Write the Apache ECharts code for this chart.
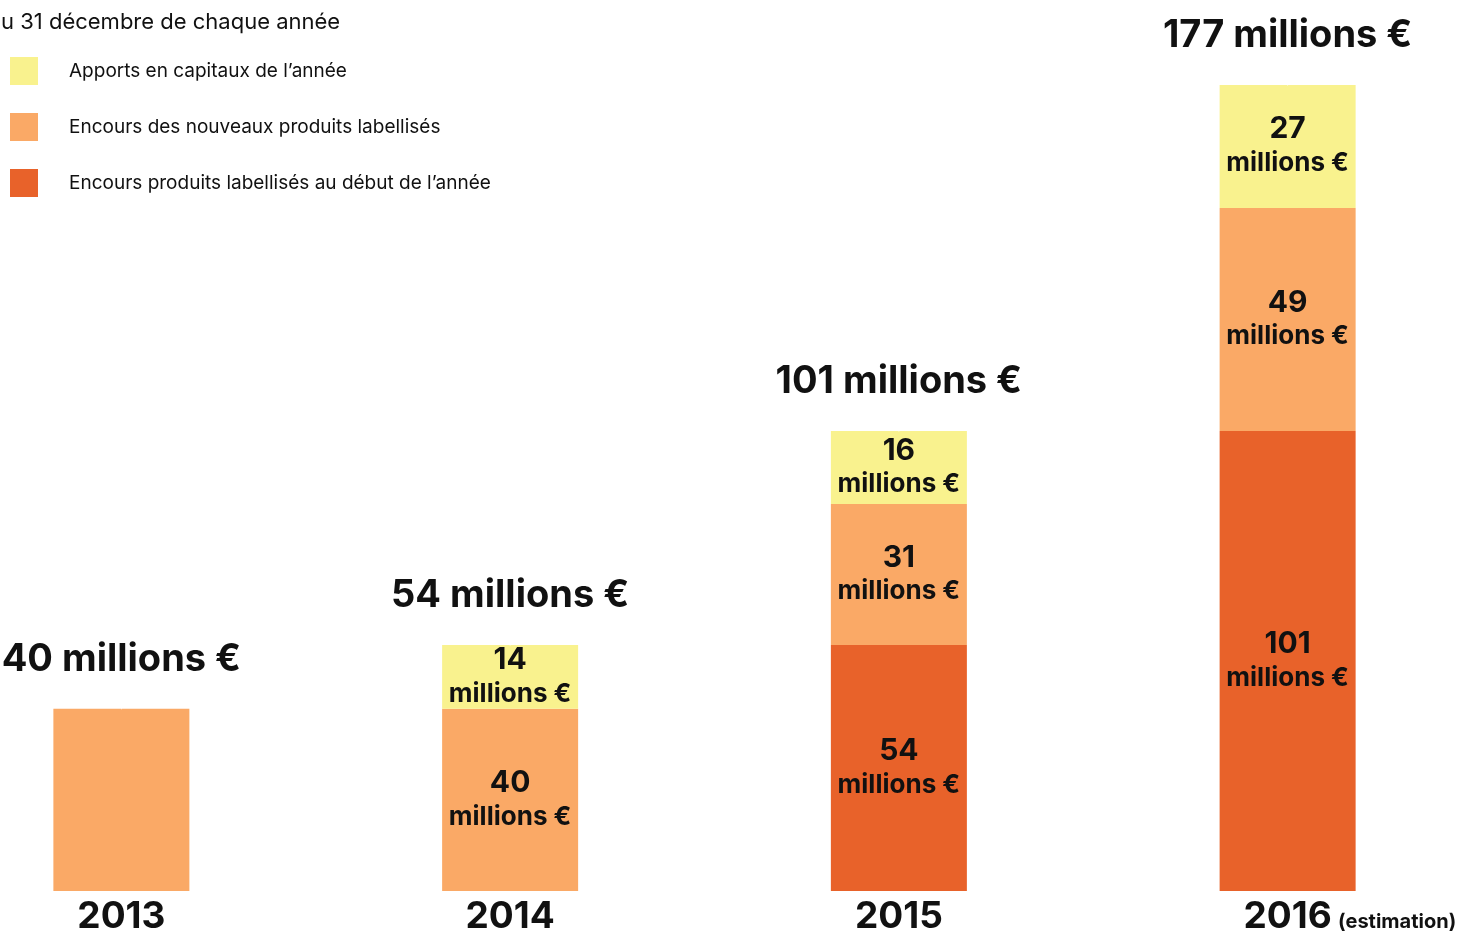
<!DOCTYPE html>
<html>
<head>
<meta charset="utf-8">
<script src="https://cdn.jsdelivr.net/npm/echarts@6/dist/echarts.min.js"></script>
<style>html,body{margin:0;padding:0;background:#fff;overflow:hidden;}#c{width:1459px;height:933px;}</style>
</head>
<body>
<div id="c"></div>
<script>
var categories = ['2013', '2014', '2015', '2016'];
var debutAnnee = ['-', '-', 54, 101];      // Encours produits labellisés au début de l'année
var nouveaux = [40, 40, 31, 49];           // Encours des nouveaux produits labellisés
var apports = ['-', 14, 16, 27];           // Apports en capitaux de l'année
var totals = [40, 54, 101, 177];
var seriesNames = ['Apports en capitaux de l\u2019année', 'Encours des nouveaux produits labellisés', 'Encours produits labellisés au début de l\u2019année'];

var FONT = 'Inter, "Noto Sans", sans-serif';
var chart = echarts.init(document.getElementById('c'));

var segLabel = {
  show: true,
  position: 'inside',
  fontFamily: FONT,
  color: '#111',
  formatter: function (p) { return '{v|' + p.value + '}\n{m|millions \u20ac}'; },
  rich: {
    v: { fontSize: 30, fontWeight: 'bold', fontFamily: FONT, color: '#111', lineHeight: 34 },
    m: { fontSize: 26, fontWeight: 'bold', fontFamily: FONT, color: '#111', lineHeight: 34 }
  }
};

function build(arr, hideFirst) {
  return arr.map(function (v, i) {
    if (hideFirst && i === 0) return { value: v, label: { show: false } };
    return v;
  });
}

chart.setOption({
  animation: false,
  backgroundColor: '#ffffff',
  title: {
    text: 'u 31 décembre de chaque année',
    left: -4, top: 6,
    textStyle: { fontSize: 22, fontWeight: 'normal', fontFamily: FONT, color: '#111' }
  },
  legend: {
    orient: 'vertical',
    left: 5, top: 52,
    itemWidth: 28, itemHeight: 28, itemGap: 28,
    icon: 'rect',
    data: seriesNames,
    textStyle: { fontSize: 19, fontFamily: FONT, color: '#111', padding: [0, 0, 0, 26] },
    selectedMode: false
  },
  grid: { left: -73, width: 1555, top: 85, bottom: 42, outerBoundsMode: 'none', containLabel: false },
  xAxis: {
    type: 'category',
    data: categories,
    axisLine: { show: false },
    axisTick: { show: false },
    axisLabel: {
      margin: 7,
      fontFamily: FONT,
      formatter: function (v) {
        return v === '2016' ? '{p|}{b|' + v + '}{s| (estimation)}' : '{b|' + v + '}';
      },
      rich: {
        b: { fontSize: 37, fontWeight: 'bold', fontFamily: FONT, color: '#111' },
        s: { fontSize: 20, fontWeight: 'bold', fontFamily: FONT, color: '#111', width: 126, padding: [10, 0, 0, 0] },
        p: { width: 126 }
      }
    }
  },
  yAxis: { type: 'value', min: 0, max: 177, show: false, splitLine: { show: false } },
  series: [
    {
      name: seriesNames[2], type: 'bar', stack: 't', barWidth: 136,
      itemStyle: { color: '#E8622A' },
      label: segLabel, data: build(debutAnnee, false)
    },
    {
      name: seriesNames[1], type: 'bar', stack: 't', barWidth: 136,
      itemStyle: { color: '#FAA966' },
      label: segLabel, data: build(nouveaux, true)
    },
    {
      name: seriesNames[0], type: 'bar', stack: 't', barWidth: 136,
      itemStyle: { color: '#F9F28E' },
      label: segLabel, data: build(apports, false)
    },
    {
      name: 'Total', type: 'scatter', symbolSize: 1,
      itemStyle: { color: '#ffffff', opacity: 1 },
      clip: false,
      label: {
        show: true, position: 'top', distance: 30,
        fontSize: 38, fontWeight: 'bold', fontFamily: FONT, color: '#111111', opacity: 1,
        formatter: function (p) { return p.value + ' millions \u20ac'; }
      },
      data: totals
    }
  ]
});
</script>
</body>
</html>
